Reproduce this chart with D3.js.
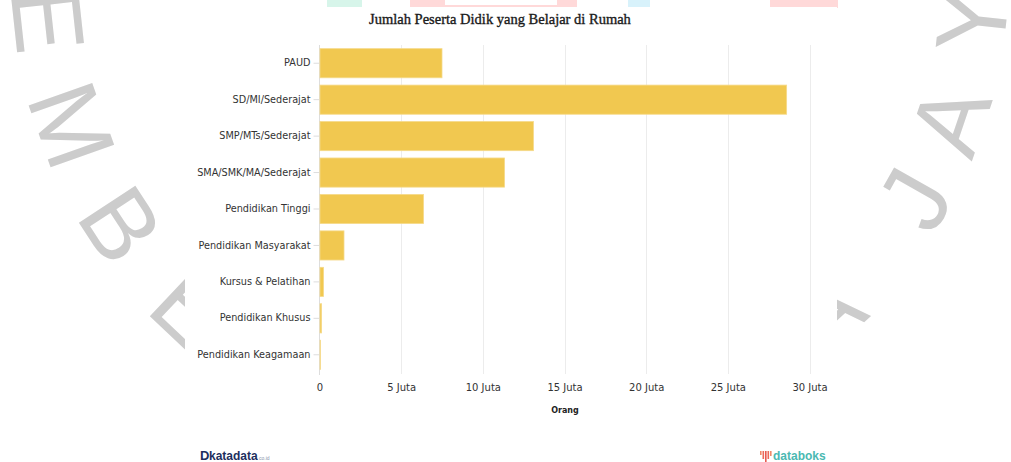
<!DOCTYPE html>
<html><head><meta charset="utf-8">
<script src="https://cdn.jsdelivr.net/npm/d3@7"></script>
<style>html,body{margin:0;padding:0;background:#fff;}svg{display:block;}</style>
</head><body>
<svg id="c" width="1011" height="462"></svg>
<script>
const categories = ["PAUD","SD/MI/Sederajat","SMP/MTs/Sederajat","SMA/SMK/MA/Sederajat","Pendidikan Tinggi","Pendidikan Masyarakat","Kursus & Pelatihan","Pendidikan Khusus","Pendidikan Keagamaan"];
const values = [7500000, 28600000, 13100000, 11330000, 6370000, 1500000, 250000, 130000, 60000];
const tickValues = [0, 5000000, 10000000, 15000000, 20000000, 25000000, 30000000];
const tickLabels = ["0","5 Juta","10 Juta","15 Juta","20 Juta","25 Juta","30 Juta"];
const title = "Jumlah Peserta Didik yang Belajar di Rumah";
const axisTitle = "Orang";
const watermarkLetters = ["E","M","B","E","Y","A","J","A"];
const watermarkAngles = [173.8,160.5,146.8,133.3,6.2,18.8,29.5,47.5];

const svg = d3.select("#c");

// watermark behind
const cx = 510, cy = -30, R = 465;
const wm = svg.append("g");
watermarkLetters.forEach((ch,i)=>{
  const a = watermarkAngles[i]*Math.PI/180;
  const px = cx + R*Math.cos(a), py = cy + R*Math.sin(a);
  const dx = px-cx, dy = py-cy;
  const rot = Math.atan2(-dx, dy)*180/Math.PI;
  wm.append("text").attr("transform",`translate(${px},${py}) rotate(${rot})`)
    .attr("text-anchor","middle").attr("dominant-baseline","central")
    .attr("font-family","Liberation Sans, Arial, sans-serif").attr("font-size",98)
    .attr("fill","#cccccc").text(ch);
});
// faint logo pieces at top
const topBits = [[327,362,"#d7f5ea"],[410,577,"#ffd9d9"],[628,650,"#d8f2fb"],[770,838,"#ffd9d9"]];
topBits.forEach(b=>svg.append("rect").attr("x",b[0]).attr("y",0).attr("width",b[1]-b[0]).attr("height",8).attr("fill",b[2]));
svg.append("rect").attr("x",445).attr("y",0).attr("width",112).attr("height",5).attr("fill","#fff");

// chart image background
svg.append("rect").attr("x",185).attr("y",7).attr("width",652).attr("height",455).attr("fill","#fff");

const x = d3.scaleLinear().domain([0,30000000]).range([319.5,809.5]);
const y = d3.scaleBand().domain(categories).range([45,373]).paddingInner(0.2).paddingOuter(0.1);

// gridlines
svg.append("g").selectAll("line").data(tickValues.slice(1)).join("line")
  .attr("x1",d=>Math.round(x(d))+0.5).attr("x2",d=>Math.round(x(d))+0.5)
  .attr("y1",45).attr("y2",374).attr("stroke","#ececec").attr("stroke-width",1);

// x axis
const xAxis = d3.axisBottom(x).tickValues(tickValues).tickFormat((d,i)=>tickLabels[i]).tickSize(0).tickPadding(10);
const gx = svg.append("g").attr("transform","translate(0,374)").call(xAxis);
gx.select(".domain").remove();
gx.selectAll("text").attr("font-family","DejaVu Sans, Verdana, sans-serif").attr("font-size",10).attr("fill","#333");

// y axis
const yAxis = d3.axisLeft(y).tickSize(6).tickPadding(3);
const gy = svg.append("g").attr("transform","translate(319.5,0)").call(yAxis);
gy.select(".domain").attr("stroke","#dddddd").attr("d","M0,45V375");
gy.selectAll(".tick line").attr("stroke","#dddddd");
gy.selectAll("text").attr("font-family","DejaVu Sans, Verdana, sans-serif").attr("font-size",9.7).attr("fill","#333");

// bars
svg.append("g").selectAll("rect").data(values).join("rect")
  .attr("x",x(0)+0.5).attr("y",(d,i)=>y(categories[i]))
  .attr("width",d=>Math.max(0,x(d)-x(0)-0.5)).attr("height",y.bandwidth())
  .attr("fill","#f1c850").attr("stroke","#f6da8a").attr("stroke-width",0.8);

// title
svg.append("text").attr("x",500).attr("y",24).attr("text-anchor","middle")
  .attr("font-family","Liberation Serif, Times New Roman, serif").attr("font-weight","normal")
  .attr("font-size",14.5).attr("fill","#1a1a1a").attr("stroke","#1a1a1a").attr("stroke-width",0.35).text(title);

// axis title
svg.append("text").attr("x",565).attr("y",413).attr("text-anchor","middle")
  .attr("font-family","DejaVu Sans, Verdana, sans-serif").attr("font-weight","bold")
  .attr("font-size",8).attr("fill","#222").text(axisTitle);

// katadata logo
const kl = svg.append("g").attr("transform","translate(200,460)");
kl.append("text").attr("x",0).attr("y",0).attr("font-family","Liberation Sans, Arial, sans-serif").attr("font-weight","bold").attr("font-size",13).attr("fill","#1d2f5e").text("D");
kl.append("text").attr("x",9).attr("y",0).attr("font-family","Liberation Sans, Arial, sans-serif").attr("font-weight","bold").attr("font-size",12).attr("fill","#1d2f5e").text("katadata");
kl.append("text").attr("x",59).attr("y",0).attr("font-family","Liberation Sans, Arial, sans-serif").attr("font-size",5).attr("fill","#8a94aa").text("co.id");

// databoks logo
const dl = svg.append("g").attr("transform","translate(760,460)");
[[0,4,"#f08a6a"],[2.5,8,"#ec6a5a"],[5,11,"#e85a50"],[7.5,8,"#ec6a5a"],[10,5,"#f08a6a"]].forEach(b=>{
  dl.append("rect").attr("x",b[0]).attr("y",-9).attr("width",1.6).attr("height",b[1]).attr("fill",b[2]);
});
dl.append("text").attr("x",13).attr("y",0).attr("font-family","Liberation Sans, Arial, sans-serif").attr("font-weight","bold").attr("font-size",12).attr("fill","#4bb9b2").text("databoks");
</script>
</body></html>
